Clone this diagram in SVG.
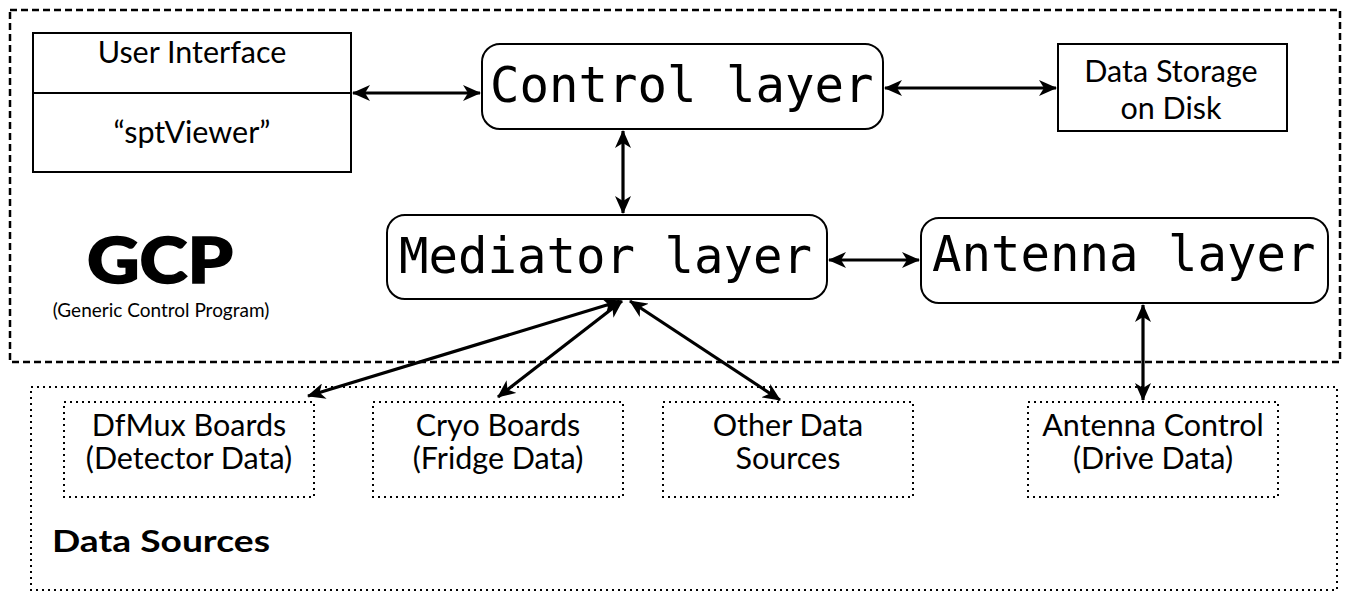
<svg xmlns="http://www.w3.org/2000/svg" width="1353" height="604" viewBox="0 0 1353 604">
<defs>
<style>
.box{fill:#fff;stroke:#000;stroke-width:2}
.dash{fill:none;stroke:#000;stroke-width:2.5;stroke-dasharray:7 4}
.dot{fill:none;stroke:#000;stroke-width:2;stroke-dasharray:2 4}
.mono{font-family:"DejaVu Sans Mono",monospace;font-size:49px;fill:#000}
.hum{font-family:Lato,"Open Sans",sans-serif;font-size:30.5px;fill:#000;text-anchor:middle}
.conn{stroke:#000;stroke-width:3.2;fill:none;marker-start:url(#ah);marker-end:url(#ah)}
</style>
<marker id="ah" markerUnits="userSpaceOnUse" markerWidth="20" markerHeight="16" refX="17" refY="8" orient="auto-start-reverse">
<path d="M0,0 L18,8 L0,16 L5,8 z" fill="#000"/>
</marker>
</defs>
<rect width="1353" height="604" fill="#fff"/>
<g id="gcp">
<rect class="dash" x="10" y="10" width="1330" height="352"/>
<text x="160" y="283" font-family="Lato,sans-serif" font-weight="900" font-size="62" text-anchor="middle" textLength="146" lengthAdjust="spacingAndGlyphs" stroke="#000" stroke-width="1.5">GCP</text>
<text x="161" y="317" font-family="Lato,sans-serif" font-size="19" text-anchor="middle">(Generic Control Program)</text>
</g>
<g id="data-sources">
<rect class="dot" x="31" y="387" width="1306" height="203"/>
<text x="52" y="552" font-family="Lato,sans-serif" font-weight="bold" font-size="31" textLength="218" lengthAdjust="spacingAndGlyphs">Data Sources</text>
</g>
<g id="user-interface">
<rect class="box" x="33" y="33" width="318" height="139"/>
<line x1="33" y1="93" x2="351" y2="93" stroke="#000" stroke-width="2"/>
<text class="hum" x="192" y="63">User Interface</text>
<text class="hum" x="192" y="143">“sptViewer”</text>
</g>
<g id="control-layer">
<rect class="box" x="482" y="44" width="401" height="85" rx="18"/>
<text class="mono" x="490" y="102">Control layer</text>
</g>
<g id="data-storage">
<rect class="box" x="1058" y="44" width="229" height="87"/>
<text class="hum" x="1171" y="82">Data Storage</text>
<text class="hum" x="1171" y="119">on Disk</text>
</g>
<g id="mediator-layer">
<rect class="box" x="387" y="215" width="440" height="84" rx="18"/>
<text class="mono" x="399" y="273">Mediator layer</text>
</g>
<g id="antenna-layer">
<rect class="box" x="921" y="218" width="407" height="85" rx="18"/>
<text class="mono" x="932" y="271">Antenna layer</text>
</g>
<g id="dfmux">
<rect class="dot" x="64" y="402" width="250" height="95"/>
<text class="hum" x="189" y="436">DfMux Boards</text>
<text class="hum" x="189" y="469">(Detector Data)</text>
</g>
<g id="cryo">
<rect class="dot" x="373" y="402" width="250" height="95"/>
<text class="hum" x="498" y="436">Cryo Boards</text>
<text class="hum" x="498" y="469">(Fridge Data)</text>
</g>
<g id="other">
<rect class="dot" x="663" y="402" width="250" height="95"/>
<text class="hum" x="788" y="436">Other Data</text>
<text class="hum" x="788" y="469">Sources</text>
</g>
<g id="antenna-control">
<rect class="dot" x="1028" y="402" width="250" height="95"/>
<text class="hum" x="1153" y="436">Antenna Control</text>
<text class="hum" x="1153" y="469">(Drive Data)</text>
</g>
<g id="connectors">
<line class="conn" x1="353" y1="93" x2="480" y2="93"/>
<line class="conn" x1="885" y1="88" x2="1056" y2="88"/>
<line class="conn" x1="623" y1="131" x2="623" y2="213"/>
<line class="conn" x1="829" y1="260" x2="919" y2="260"/>
<line class="conn" x1="1143" y1="305" x2="1143" y2="400"/>
<line class="conn" x1="620" y1="301" x2="308" y2="396"/>
<line class="conn" x1="622" y1="301" x2="498" y2="397"/>
<line class="conn" x1="630" y1="301" x2="780" y2="400"/>
</g>
</svg>
